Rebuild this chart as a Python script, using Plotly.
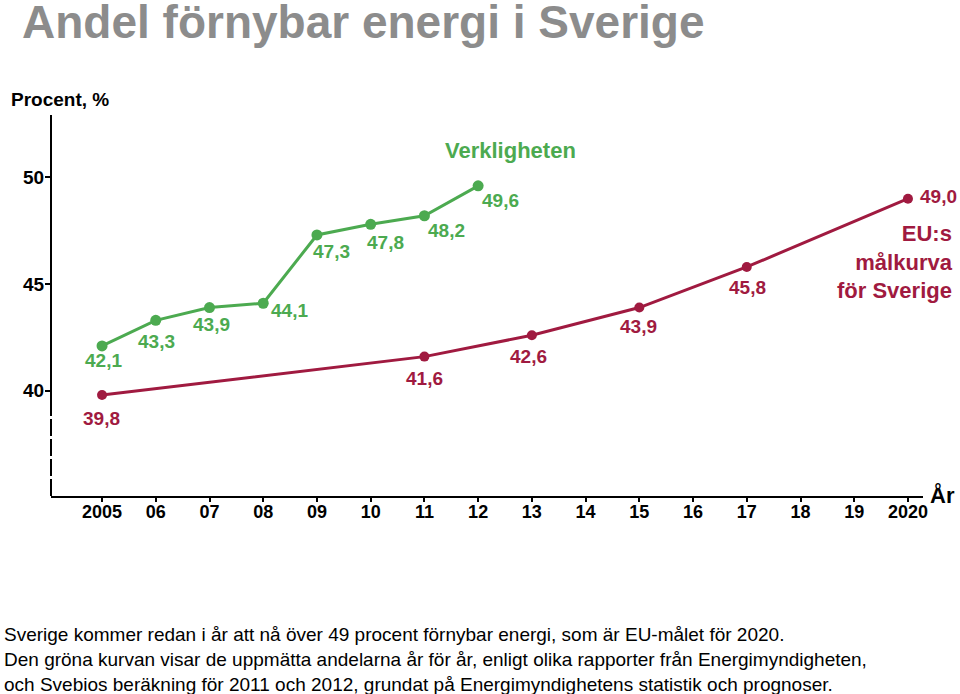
import plotly.graph_objects as go

# ---------------- data ----------------
green_years = [2005, 2006, 2007, 2008, 2009, 2010, 2011, 2012]
green_values = [42.1, 43.3, 43.9, 44.1, 47.3, 47.8, 48.2, 49.6]
green_labels = ["42,1", "43,3", "43,9", "44,1", "47,3", "47,8", "48,2", "49,6"]

red_years = [2005, 2011, 2013, 2015, 2017, 2020]
red_values = [39.8, 41.6, 42.6, 43.9, 45.8, 49.0]
red_labels = ["39,8", "41,6", "42,6", "43,9", "45,8", "49,0"]

x_tick_values = list(range(2005, 2021))
x_tick_labels = ["2005", "06", "07", "08", "09", "10", "11", "12", "13", "14",
                 "15", "16", "17", "18", "19", "2020"]
y_tick_values = [40, 45, 50]
y_tick_labels = ["40", "45", "50"]

title_text = "Andel förnybar energi i Sverige"
y_title = "Procent, %"
x_title = "År"
green_name = "Verkligheten"
red_name = "EU:s<br>målkurva<br>för Sverige"
caption_lines = [
    "Sverige kommer redan i år att nå över 49 procent förnybar energi, som är EU-målet för 2020.",
    "Den gröna kurvan visar de uppmätta andelarna år för år, enligt olika rapporter från Energimyndigheten,",
    "och Svebios beräkning för 2011 och 2012, grundat på Energimyndighetens statistik och prognoser.",
]

# ---------------- style ----------------
GREEN = "#4caa50"
RED = "#a01a40"
GRAY = "#8c8c8c"
FONT = "Liberation Sans, Arial, sans-serif"

W, H = 960, 694
PL, PR, PT, PB = 51, 923, 115, 496  # plot-area pixel box


def px(x):
    return (x - PL) / (PR - PL)


def py(y):
    return (PB - y) / (PB - PT)


# label offsets (dx right, dy down) in pixels
green_off = [(1, 15), (1, 21), (2, 17), (26, 7), (15, 17), (15, 18), (22, 15), (22, 15)]
red_off = [(-1, 23), (0, 22), (-3, 21), (-1, 19), (1, 21), (31, -2)]

fig = go.Figure()
fig.add_trace(go.Scatter(x=red_years, y=red_values, mode="lines+markers",
                         line=dict(color=RED, width=3), marker=dict(size=10, color=RED),
                         hoverinfo="skip", showlegend=False))
fig.add_trace(go.Scatter(x=green_years, y=green_values, mode="lines+markers",
                         line=dict(color=GREEN, width=3), marker=dict(size=11, color=GREEN),
                         hoverinfo="skip", showlegend=False))

ann = []
for xv, yv, t, (dx, dy) in zip(green_years, green_values, green_labels, green_off):
    ann.append(dict(x=xv, y=yv, xref="x", yref="y", text=t, showarrow=False,
                    xanchor="center", yanchor="middle", xshift=dx, yshift=-dy,
                    font=dict(family=FONT, size=19, color=GREEN, weight="bold")))
for xv, yv, t, (dx, dy) in zip(red_years, red_values, red_labels, red_off):
    ann.append(dict(x=xv, y=yv, xref="x", yref="y", text=t, showarrow=False,
                    xanchor="center", yanchor="middle", xshift=dx, yshift=-dy,
                    font=dict(family=FONT, size=19, color=RED, weight="bold")))

# series names
ann.append(dict(x=px(511), y=py(150), xref="paper", yref="paper", text=green_name,
                showarrow=False, xanchor="center", yanchor="middle",
                font=dict(family=FONT, size=22, color=GREEN, weight="bold")))
ann.append(dict(x=px(955), y=py(262), xref="paper", yref="paper", text=red_name,
                showarrow=False, xanchor="right", yanchor="middle", align="right",
                font=dict(family=FONT, size=22, color=RED, weight="bold")))

# title & axis titles
ann.append(dict(x=px(20), y=py(22), xref="paper", yref="paper", text=title_text,
                showarrow=False, xanchor="left", yanchor="middle",
                font=dict(family=FONT, size=46, color=GRAY, weight="bold")))
ann.append(dict(x=px(9), y=py(99), xref="paper", yref="paper", text=y_title,
                showarrow=False, xanchor="left", yanchor="middle",
                font=dict(family=FONT, size=19, color="black", weight="bold")))
ann.append(dict(x=px(928), y=py(495), xref="paper", yref="paper", text=x_title,
                showarrow=False, xanchor="left", yanchor="middle",
                font=dict(family=FONT, size=22, color="black", weight="bold")))

# caption
for i, line in enumerate(caption_lines):
    ann.append(dict(x=px(2), y=py(634 + 25 * i), xref="paper", yref="paper", text=line,
                    showarrow=False, xanchor="left", yanchor="middle",
                    font=dict(family=FONT, size=19, color="black")))

y_lo, y_hi = 35.07, 52.92
y_break = 39.1
shapes = [
    dict(type="line", xref="paper", yref="y", x0=0, x1=0, y0=y_break, y1=y_hi,
         line=dict(color="black", width=2)),
    dict(type="line", xref="paper", yref="y", x0=0, x1=0, y0=y_lo, y1=y_break,
         line=dict(color="black", width=2, dash="17px,3px")),
]

fig.update_layout(
    width=W, height=H,
    margin=dict(l=PL, r=W - PR, t=PT, b=H - PB, pad=0),
    paper_bgcolor="white", plot_bgcolor="white",
    annotations=ann, shapes=shapes,
    xaxis=dict(range=[2004.05, 2020.28], tickvals=x_tick_values, ticktext=x_tick_labels,
               showgrid=False, zeroline=False, showline=True, linecolor="black", linewidth=2,
               ticks="outside", ticklen=4, tickwidth=1.5, tickcolor="black",
               ticklabelstandoff=-6,
               tickfont=dict(family=FONT, size=18, color="black", weight="bold")),
    yaxis=dict(range=[y_lo, y_hi], tickvals=y_tick_values, ticktext=y_tick_labels,
               showgrid=False, zeroline=False, showline=False,
               ticks="outside", ticklen=5, tickwidth=1.5, tickcolor="black",
               ticklabelstandoff=-3,
               tickfont=dict(family=FONT, size=19, color="black", weight="bold")),
)

fig.write_html("out.html", config={"displayModeBar": False},
               post_script="document.body.style.margin='0';document.body.style.overflow='hidden';")
